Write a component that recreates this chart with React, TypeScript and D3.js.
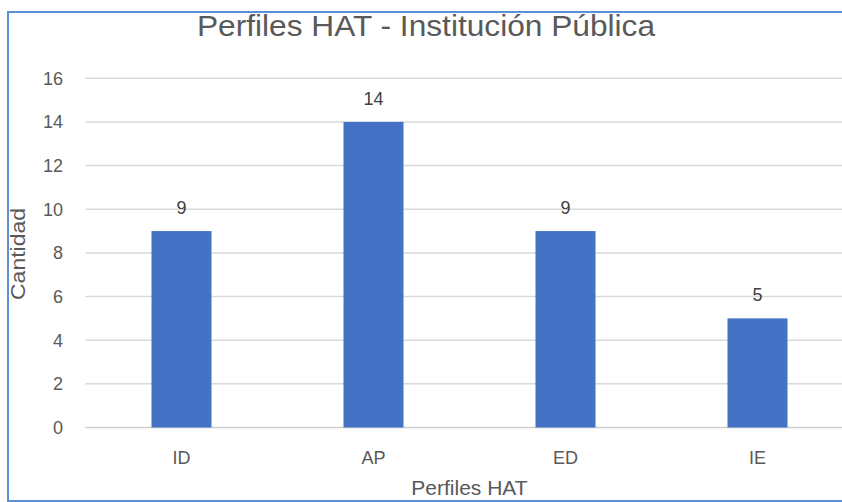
import React, { useEffect, useRef } from 'react';
import * as d3 from 'd3';

const categories = ['ID', 'AP', 'ED', 'IE'];
const values = [9, 14, 9, 5];
const yTicks = [0, 2, 4, 6, 8, 10, 12, 14, 16];

const chartTitle = 'Perfiles HAT - Institución Pública';
const xTitle = 'Perfiles HAT';
const yTitle = 'Cantidad';

const width = 842;
const height = 502;
const FONT = '"Liberation Sans", Arial, sans-serif';
const TEXT = '#595959';

export default function App() {
    const svgRef = useRef<SVGSVGElement>(null);

    useEffect(() => {
        if (!svgRef.current) return;
        const svg = d3.select(svgRef.current);
        svg.selectAll('*').remove();

        const x = d3.scaleBand<string>()
            .domain(categories)
            .range([85.5, 853.5])
            .paddingInner(0.6875)
            .paddingOuter(0.34375);

        const y = d3.scaleLinear()
            .domain([0, 16])
            .range([427.5, 78.3]);

        svg.append('rect')
            .attr('width', width)
            .attr('height', height)
            .attr('fill', '#fff');

        // gridlines
        svg.append('g')
            .selectAll('line')
            .data(yTicks)
            .join('line')
            .attr('x1', 85.5)
            .attr('x2', width)
            .attr('y1', (d: number) => y(d))
            .attr('y2', (d: number) => y(d))
            .attr('stroke', (d: number) => (d === 0 ? '#cfcfcf' : '#d9d9d9'))
            .attr('stroke-width', 1.5);

        // tick labels
        svg.append('g')
            .selectAll('text')
            .data(yTicks)
            .join('text')
            .attr('x', 63)
            .attr('y', (d: number) => y(d))
            .attr('dy', '0.35em')
            .attr('text-anchor', 'end')
            .attr('font-family', FONT)
            .attr('font-size', 18)
            .attr('fill', TEXT)
            .text((d: number) => d);

        // bars
        svg.append('g')
            .selectAll('rect')
            .data(values)
            .join('rect')
            .attr('x', (_d: number, i: number) => x(categories[i]) as number)
            .attr('width', x.bandwidth())
            .attr('y', (d: number) => y(d))
            .attr('height', (d: number) => y(0) - y(d))
            .attr('fill', '#4472C4');

        // data labels
        svg.append('g')
            .selectAll('text')
            .data(values)
            .join('text')
            .attr('x', (_d: number, i: number) => (x(categories[i]) as number) + x.bandwidth() / 2)
            .attr('y', (d: number) => y(d) - 17)
            .attr('text-anchor', 'middle')
            .attr('font-family', FONT)
            .attr('font-size', 18)
            .attr('fill', '#404040')
            .text((d: number) => d);

        // category labels
        svg.append('g')
            .selectAll('text')
            .data(categories)
            .join('text')
            .attr('x', (d: string) => (x(d) as number) + x.bandwidth() / 2)
            .attr('y', 464)
            .attr('text-anchor', 'middle')
            .attr('font-family', FONT)
            .attr('font-size', 18)
            .attr('fill', TEXT)
            .text((d: string) => d);

        // title
        svg.append('text')
            .attr('x', 426)
            .attr('y', 36)
            .attr('text-anchor', 'middle')
            .attr('font-family', FONT)
            .attr('font-size', 29)
            .attr('textLength', 458)
            .attr('lengthAdjust', 'spacingAndGlyphs')
            .attr('fill', TEXT)
            .text(chartTitle);

        // axis titles
        svg.append('text')
            .attr('x', 469.5)
            .attr('y', 495)
            .attr('text-anchor', 'middle')
            .attr('font-family', FONT)
            .attr('font-size', 21)
            .attr('fill', TEXT)
            .text(xTitle);

        svg.append('text')
            .attr('transform', 'translate(25,254) rotate(-90)')
            .attr('text-anchor', 'middle')
            .attr('font-family', FONT)
            .attr('font-size', 21)
            .attr('textLength', 92)
            .attr('lengthAdjust', 'spacingAndGlyphs')
            .attr('fill', TEXT)
            .text(yTitle);

        // chart frame (open on the right, as in the cropped original)
        svg.append('path')
            .attr('d', `M${width + 5},12 H8 V501 H${width + 5}`)
            .attr('fill', 'none')
            .attr('stroke', '#5B8FD9')
            .attr('stroke-width', 2);
    }, []);

    return (
        <svg
            ref={svgRef}
            width={width}
            height={height}
            style={{ position: 'absolute', left: 0, top: 0, display: 'block' }}
        />
    );
}
